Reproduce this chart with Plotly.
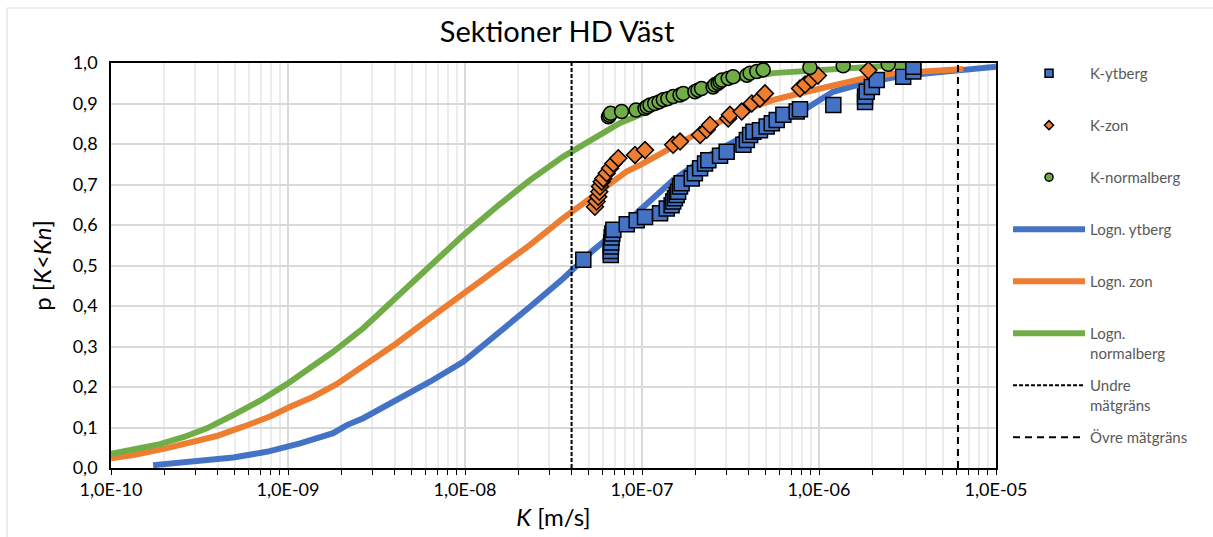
import plotly.graph_objects as go

# ---- axis ticks ----
x_tick_vals = [1e-10, 1e-9, 1e-8, 1e-7, 1e-6, 1e-5]
x_tick_text = ["1,0E-10", "1,0E-09", "1,0E-08", "1,0E-07", "1,0E-06", "1,0E-05"]
x_minor_vals = [m * d for d in [1e-10, 1e-9, 1e-8, 1e-7, 1e-6] for m in range(2, 10)]

# ---- fitted lognormal curves ----
logn_ytberg_K = [1.73e-10, 2.56e-10, 4.91e-10, 7.59e-10, 1.17e-9, 1.80e-9, 2.15e-9, 2.66e-9,
                 4.11e-9, 6.34e-9, 9.77e-9, 1.51e-8, 2.33e-8, 3.59e-8, 4.47e-8, 5.31e-8,
                 8.18e-8, 9.75e-8, 1.50e-7, 2.32e-7, 3.58e-7, 5.52e-7, 8.51e-7, 1.20e-6,
                 1.78e-6, 2.75e-6, 4.24e-6, 6.53e-6, 1.00e-5]
logn_ytberg_p = [0.007, 0.013, 0.026, 0.040, 0.061, 0.086, 0.106, 0.123,
                 0.168, 0.213, 0.262, 0.328, 0.398, 0.468, 0.505, 0.538,
                 0.604, 0.637, 0.711, 0.769, 0.814, 0.855, 0.888, 0.929,
                 0.950, 0.966, 0.975, 0.983, 0.991]

logn_zon_K = [1.00e-10, 1.34e-10, 2.07e-10, 2.92e-10, 3.95e-10, 5.58e-10, 7.91e-10, 1.03e-9,
              1.39e-9, 1.88e-9, 2.66e-9, 4.11e-9, 6.34e-9, 9.77e-9, 1.51e-8, 2.33e-8,
              3.59e-8, 4.47e-8, 5.79e-8, 8.18e-8, 9.75e-8, 1.50e-7, 2.32e-7, 3.58e-7,
              5.52e-7, 8.51e-7, 1.15e-6, 1.78e-6, 2.75e-6, 4.24e-6, 6.53e-6]
logn_zon_p = [0.024, 0.032, 0.049, 0.065, 0.079, 0.102, 0.127, 0.151,
              0.176, 0.207, 0.250, 0.308, 0.370, 0.431, 0.493, 0.551,
              0.617, 0.647, 0.686, 0.732, 0.748, 0.793, 0.839, 0.880,
              0.909, 0.929, 0.941, 0.962, 0.975, 0.981, 0.985]

logn_normal_K = [1.00e-10, 1.28e-10, 1.89e-10, 2.56e-10, 3.48e-10, 4.91e-10, 6.95e-10, 9.84e-10,
                 1.39e-9, 1.80e-9, 2.66e-9, 4.11e-9, 6.34e-9, 9.77e-9, 1.51e-8, 2.33e-8,
                 3.59e-8, 4.47e-8, 5.79e-8, 7.52e-8, 9.75e-8, 1.50e-7, 2.32e-7, 3.58e-7,
                 5.52e-7, 8.51e-7, 1.31e-6, 2.00e-6, 3.55e-6]
logn_normal_p = [0.035, 0.043, 0.059, 0.076, 0.098, 0.131, 0.166, 0.207,
                 0.254, 0.287, 0.345, 0.423, 0.497, 0.575, 0.645, 0.711,
                 0.769, 0.793, 0.822, 0.852, 0.872, 0.909, 0.941, 0.962,
                 0.975, 0.981, 0.987, 0.991, 0.996]

# ---- measured values ----
ytberg_K = [4.66e-8, 6.66e-8, 6.66e-8, 6.68e-8, 6.70e-8, 6.74e-8, 6.80e-8, 6.89e-8,
            8.20e-8, 9.33e-8, 1.04e-7, 1.265e-7, 1.38e-7, 1.47e-7, 1.50e-7, 1.535e-7,
            1.57e-7, 1.60e-7, 1.64e-7, 1.675e-7, 1.91e-7, 1.99e-7, 2.13e-7, 2.27e-7,
            2.37e-7, 2.76e-7, 3.01e-7, 3.74e-7, 3.91e-7, 4.08e-7, 4.26e-7, 4.64e-7,
            5.06e-7, 5.41e-7, 5.77e-7, 6.29e-7, 7.48e-7, 7.81e-7, 1.205e-6, 1.82e-6,
            1.82e-6, 1.86e-6, 1.99e-6, 2.12e-6, 2.99e-6, 3.41e-6, 3.41e-6]
ytberg_p = [0.514, 0.526, 0.536, 0.547, 0.557, 0.569, 0.579, 0.588,
            0.602, 0.612, 0.620, 0.629, 0.641, 0.649, 0.658, 0.666,
            0.674, 0.682, 0.695, 0.703, 0.715, 0.728, 0.740, 0.752,
            0.760, 0.771, 0.781, 0.798, 0.810, 0.822, 0.830, 0.834,
            0.843, 0.851, 0.859, 0.872, 0.880, 0.886, 0.896, 0.904,
            0.917, 0.929, 0.941, 0.958, 0.966, 0.979, 0.991]

zon_K = [5.42e-8, 5.54e-8, 5.66e-8, 5.74e-8, 5.79e-8, 5.92e-8, 6.04e-8, 6.32e-8,
         6.60e-8, 6.89e-8, 7.35e-8, 9.13e-8, 1.04e-7, 1.50e-7, 1.64e-7, 2.13e-7,
         2.32e-7, 2.42e-7, 3.07e-7, 3.14e-7, 3.66e-7, 4.17e-7, 4.64e-7, 4.95e-7,
         7.81e-7, 8.34e-7, 9.12e-7, 9.86e-7, 1.90e-6]
zon_p = [0.645, 0.658, 0.670, 0.682, 0.695, 0.707, 0.715, 0.728,
         0.740, 0.752, 0.765, 0.773, 0.785, 0.798, 0.806, 0.822,
         0.835, 0.847, 0.863, 0.872, 0.880, 0.900, 0.912, 0.925,
         0.937, 0.947, 0.959, 0.969, 0.982]

normal_K = [6.46e-8, 6.56e-8, 6.65e-8, 7.67e-8, 9.26e-8, 1.04e-7, 1.07e-7, 1.11e-7,
            1.18e-7, 1.25e-7, 1.32e-7, 1.40e-7, 1.50e-7, 1.64e-7, 1.71e-7, 1.99e-7,
            2.07e-7, 2.17e-7, 2.52e-7, 2.58e-7, 2.69e-7, 2.76e-7, 2.83e-7, 3.07e-7,
            3.27e-7, 3.91e-7, 4.08e-7, 4.45e-7, 4.84e-7, 8.89e-7, 1.37e-6, 2.46e-6]
normal_p = [0.867, 0.871, 0.876, 0.880, 0.884, 0.888, 0.892, 0.896,
            0.900, 0.904, 0.909, 0.912, 0.917, 0.921, 0.925, 0.929,
            0.933, 0.937, 0.941, 0.946, 0.950, 0.954, 0.958, 0.962,
            0.966, 0.970, 0.975, 0.979, 0.983, 0.989, 0.993, 0.997]

# ---- measurement limits ----
undre_matgrans = 4.0e-8
ovre_matgrans = 6.1e-6

BLUE, ORANGE, GREEN = "#4472C4", "#ED7D31", "#70AD47"
FONT = "Lato"

fig = go.Figure()

# fitted curves
for name, xs, ys, col, rank in [
    ("Logn. ytberg<br> ", logn_ytberg_K, logn_ytberg_p, BLUE, 4),
    ("Logn. zon<br> ", logn_zon_K, logn_zon_p, ORANGE, 5),
    ("Logn.<br>normalberg", logn_normal_K, logn_normal_p, GREEN, 6),
]:
    fig.add_trace(go.Scatter(x=xs, y=ys, mode="lines", name=name, legendrank=rank,
                             legendgroup=name, line=dict(color=col, width=6)))

# measurement limits
fig.add_trace(go.Scatter(x=[undre_matgrans, undre_matgrans], y=[0, 1], mode="lines",
                         name="Undre<br>mätgräns", legendrank=7, legendgroup="undre",
                         line=dict(color="black", width=2, dash="4px,2px")))
fig.add_trace(go.Scatter(x=[ovre_matgrans, ovre_matgrans], y=[0, 1], mode="lines",
                         name="Övre mätgräns<br> ", legendrank=8, legendgroup="ovre",
                         line=dict(color="black", width=2, dash="7px,5px")))

# measured points (drawn on top of the curves)
fig.add_trace(go.Scatter(x=ytberg_K, y=ytberg_p, mode="markers", showlegend=False,
                         marker=dict(symbol="square", size=15, color=BLUE,
                                     line=dict(color="black", width=1.5))))
fig.add_trace(go.Scatter(x=zon_K, y=zon_p, mode="markers", showlegend=False,
                         marker=dict(symbol="diamond", size=13, color=ORANGE,
                                     line=dict(color="black", width=1.5))))
fig.add_trace(go.Scatter(x=normal_K, y=normal_p, mode="markers", showlegend=False,
                         marker=dict(symbol="circle", size=14, color=GREEN,
                                     line=dict(color="black", width=1.5))))

# legend entries for the measured points (smaller symbols)
for name, sym, size, col, rank in [
    ("K-ytberg<br> ", "square", 8, BLUE, 1),
    ("K-zon<br> ", "diamond", 7, ORANGE, 2),
    ("K-normalberg<br> ", "circle", 8, GREEN, 3),
]:
    fig.add_trace(go.Scatter(x=[None], y=[None], mode="markers", name=name,
                             legendrank=rank, legendgroup=name,
                             marker=dict(symbol=sym, size=size, color=col,
                                         line=dict(color="black", width=1.5))))

fig.update_layout(
    width=1213, height=537,
    margin=dict(l=111, r=217, t=63, b=69),
    paper_bgcolor="white", plot_bgcolor="white",
    separators=", ",
    font=dict(family=FONT, color="black", size=18),
    title=dict(text="Sektioner HD Väst", x=0.504, xref="paper", xanchor="center",
               y=1 - 32 / 537, yref="container", yanchor="middle",
               font=dict(family=FONT, size=29, color="black")),
    legend=dict(x=1.0136, xanchor="left", y=1.015, yanchor="top",
                font=dict(family=FONT, size=15, color="#595959"),
                itemwidth=72, tracegroupgap=10, valign="top", maxheight=520,
                bgcolor="rgba(0,0,0,0)", borderwidth=0),
    xaxis=dict(type="log", range=[-10, -5], automargin=False,
               tickmode="array", tickvals=x_tick_vals, ticktext=x_tick_text,
               ticks="outside", ticklen=5, tickcolor="black", tickwidth=1,
               showgrid=True, gridcolor="#d9d9d9", gridwidth=1.5,
               minor=dict(tickmode="array", tickvals=x_minor_vals, ticks="outside",
                          ticklen=5, tickcolor="black", showgrid=True,
                          gridcolor="#ececec", gridwidth=1.5),
               showline=True, linecolor="black", linewidth=1.5, mirror=True,
               zeroline=False,
               title=dict(text="<i>K</i> [m/s]", font=dict(family=FONT, size=24), standoff=10),
               tickfont=dict(family=FONT, size=18, color="black")),
    yaxis=dict(range=[0, 1], dtick=0.1, tickformat=".1f", automargin=False,
               showgrid=True, gridcolor="#d9d9d9", gridwidth=1.5,
               showline=True, linecolor="black", linewidth=1.5, mirror=True,
               zeroline=False, ticklabelstandoff=8,
               title=dict(text="p [<i>K</i>&lt;<i>Kn</i>]", font=dict(family=FONT, size=24),
                          standoff=14),
               tickfont=dict(family=FONT, size=18, color="black")),
    shapes=[dict(type="rect", xref="paper", yref="paper",
                 x0=(7 - 111) / 885, x1=(1300 - 111) / 885,
                 y0=(468 - 600) / 405, y1=(468 - 8) / 405,
                 line=dict(color="#d9d9d9", width=1), fillcolor="rgba(0,0,0,0)",
                 layer="below")],
)

fig.write_html("out.html")
